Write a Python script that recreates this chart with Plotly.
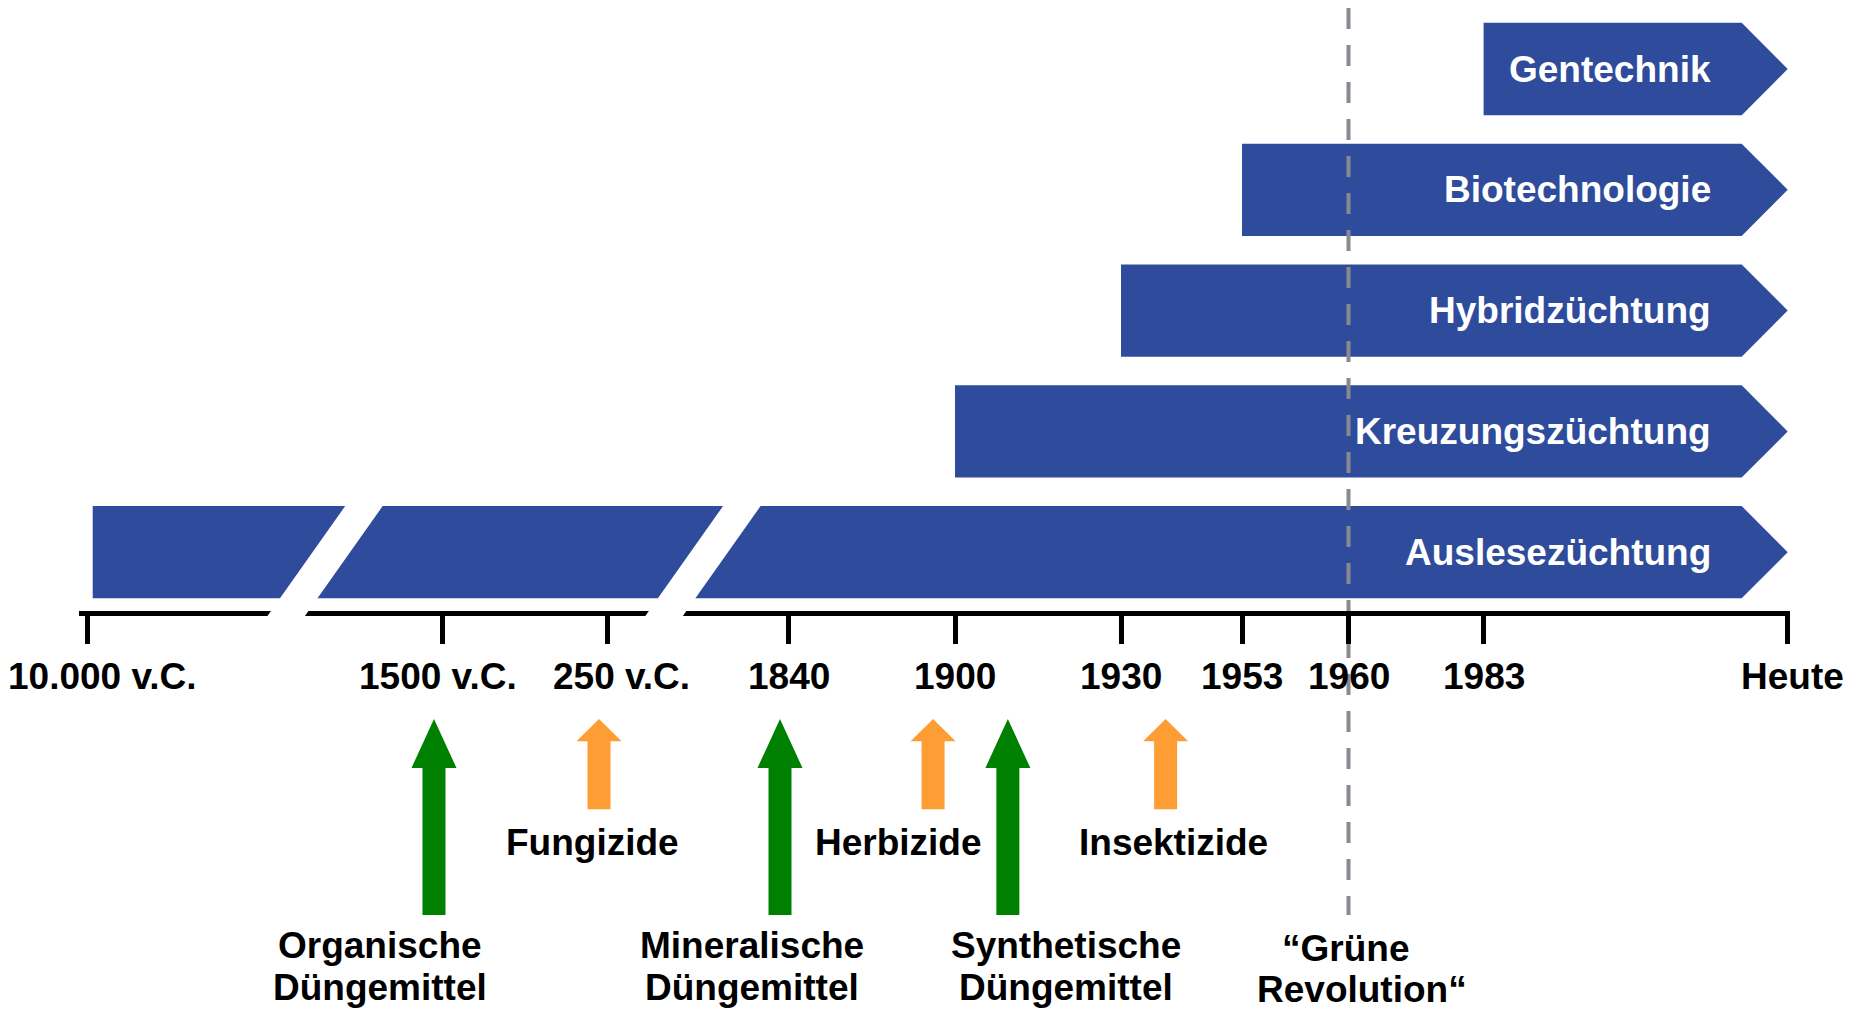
import numpy as np
import plotly.graph_objects as go

# ---------------- data ----------------
TICK_LABELS = ["10.000 v.C.", "1500 v.C.", "250 v.C.", "1840", "1900", "1930",
               "1953", "1960", "1983", "Heute"]
TICK_YEARS = [-10000, -1500, -250, 1840, 1900, 1930, 1953, 1960, 1983, 2020]

TECHNIQUES = ["Auslesezüchtung", "Kreuzungszüchtung", "Hybridzüchtung",
              "Biotechnologie", "Gentechnik"]
TECH_START = [-10000, 1900, 1930, 1953, 1983]
TECH_END = [2020, 2020, 2020, 2020, 2020]

FERTILIZERS = [["Organische", "Düngemittel"], ["Mineralische", "Düngemittel"],
               ["Synthetische", "Düngemittel"]]
FERT_YEARS = [-1500, 1840, 1911]

PESTICIDES = ["Fungizide", "Herbizide", "Insektizide"]
PEST_YEARS = [-250, 1895, 1940]

GREEN_REV_LABEL = ["“Grüne", "Revolution“"]
GREEN_REV_YEAR = 1960

# ---------------- layout / style ----------------
W, H = 1858, 1009
# broken, non-linear timeline: position of each tick year along the axis
AXIS_POS = [87, 442, 607, 788, 955, 1121, 1242, 1348.5, 1483.6, 1787.7]
X_MIN, X_MAX = 78.7, 1790.2
ROW0_PX, ROW_PX = 552.2, 120.8          # row 0 centre and row pitch (px)
Y_RANGE = [(ROW0_PX - H) / ROW_PX, ROW0_PX / ROW_PX]

BLUE = "#2E4C9B"
GREEN = "#008000"
ORANGE = "#FF9D35"
GREY = "#878A90"
FONT = "Liberation Sans, Arial, sans-serif"
FS = 37


def tpos(year):
    return float(np.interp(year, TICK_YEARS, AXIS_POS))


def ry(px):
    return (ROW0_PX - px) / ROW_PX


BAR_HALF = 46.15 / ROW_PX
BAR_INSET = [5.7, 0, 0, 0, 0]
HEAD_LEN = 46
TEXT_PAD = 29
ARROW_NUDGE = -8
TICK_LABEL_SHIFT = [15.5, -4.5, 14, 1, 0, 0, 0, 0, 0, 4.5]
FERT_LABEL_SHIFT = [-54.5, -28, 58]
PEST_LABEL_SHIFT = [-7, -35, 7.5]
BREAKS = [288.3, 666.2]       # break centres at the axis line
BREAK_W = 37.5
BREAK_SLOPE = 0.707


def label(x, xshift, ypx, text, color="black"):
    fig.add_annotation(x=x, xshift=xshift, y=ry(ypx), xref="x", yref="y",
                       text="<b>%s</b>" % text, showarrow=False,
                       xanchor="center", yanchor="middle",
                       font=dict(family=FONT, size=FS, color=color))


fig = go.Figure()

# technique bars (arrows)
for i, (name, s, e) in enumerate(zip(TECHNIQUES, TECH_START, TECH_END)):
    x0, x1 = tpos(s) + BAR_INSET[i], tpos(e)
    xb = x1 - HEAD_LEN
    r = i
    fig.add_trace(go.Scatter(
        x=[x0, xb, x1, xb, x0, x0],
        y=[r + BAR_HALF, r + BAR_HALF, r, r - BAR_HALF, r - BAR_HALF, r + BAR_HALF],
        mode="lines", fill="toself", fillcolor=BLUE,
        line=dict(width=0, color=BLUE), hoverinfo="skip"))
    fig.add_annotation(x=xb, xshift=-TEXT_PAD, y=r, xref="x", yref="y",
                       text="<b>%s</b>" % name, showarrow=False,
                       xanchor="right", yanchor="middle",
                       font=dict(family=FONT, size=FS, color="white"))


def up_arrow(xc, tip, base, bottom, hw, sw, color):
    xs = [xc - sw, xc - sw, xc - hw, xc, xc + hw, xc + sw, xc + sw, xc - sw]
    ys = [bottom, base, base, tip, base, base, bottom, bottom]
    fig.add_trace(go.Scatter(x=xs, y=[ry(v) for v in ys], mode="lines",
                             fill="toself", fillcolor=color,
                             line=dict(width=0, color=color), hoverinfo="skip"))


for lines, yr, sh in zip(FERTILIZERS, FERT_YEARS, FERT_LABEL_SHIFT):
    xc = tpos(yr) + ARROW_NUDGE
    up_arrow(xc, 719, 768, 915, 22.5, 11.5, GREEN)
    label(xc, sh, 945, lines[0])
    label(xc, sh, 987, lines[1])

for lab, yr, sh in zip(PESTICIDES, PEST_YEARS, PEST_LABEL_SHIFT):
    xc = tpos(yr) + ARROW_NUDGE
    up_arrow(xc, 719, 741.3, 809.3, 22.5, 11.5, ORANGE)
    label(xc, sh, 842.5, lab)

# green revolution dashed line
xg = tpos(GREEN_REV_YEAR)
fig.add_trace(go.Scatter(x=[xg, xg], y=[ry(8), ry(915)], mode="lines",
                         line=dict(color=GREY, width=4, dash="21px,16px"),
                         hoverinfo="skip"))
label(xg, -3, 948, GREEN_REV_LABEL[0])
label(xg, 13, 989, GREEN_REV_LABEL[1])

# tick labels
for lab, yr, sh in zip(TICK_LABELS, TICK_YEARS, TICK_LABEL_SHIFT):
    label(tpos(yr), sh, 676, lab)

# axis breaks (white slanted bands over bar and axis line)
for xc in BREAKS:
    yt, yb = 500, 622
    xt = xc + (613 - yt) * BREAK_SLOPE
    xbt = xc + (613 - yb) * BREAK_SLOPE
    hw = BREAK_W / 2
    path = "M %f,%f L %f,%f L %f,%f L %f,%f Z" % (
        xt - hw, ry(yt), xt + hw, ry(yt), xbt + hw, ry(yb), xbt - hw, ry(yb))
    fig.add_shape(type="path", path=path, xref="x", yref="y",
                  fillcolor="white", line=dict(width=0), layer="above")

fig.update_layout(
    width=W, height=H, margin=dict(l=0, r=0, t=0, b=0),
    paper_bgcolor="white", plot_bgcolor="white", showlegend=False,
    hovermode=False,
    xaxis=dict(domain=[X_MIN / W, X_MAX / W], range=[X_MIN, X_MAX],
               anchor="free", position=1 - 612.5 / H,
               tickvals=[tpos(y) for y in TICK_YEARS],
               showticklabels=False, ticks="outside", ticklen=28,
               tickwidth=5, tickcolor="black",
               showline=True, linewidth=5, linecolor="black",
               showgrid=False, zeroline=False, fixedrange=True,
               automargin=False),
    yaxis=dict(domain=[0, 1], range=Y_RANGE, visible=False,
               showgrid=False, zeroline=False, fixedrange=True),
)

fig.write_html("out.html", config={"displayModeBar": False},
               post_script="document.body.style.margin='0px';"
                           "document.body.style.overflow='hidden';")
